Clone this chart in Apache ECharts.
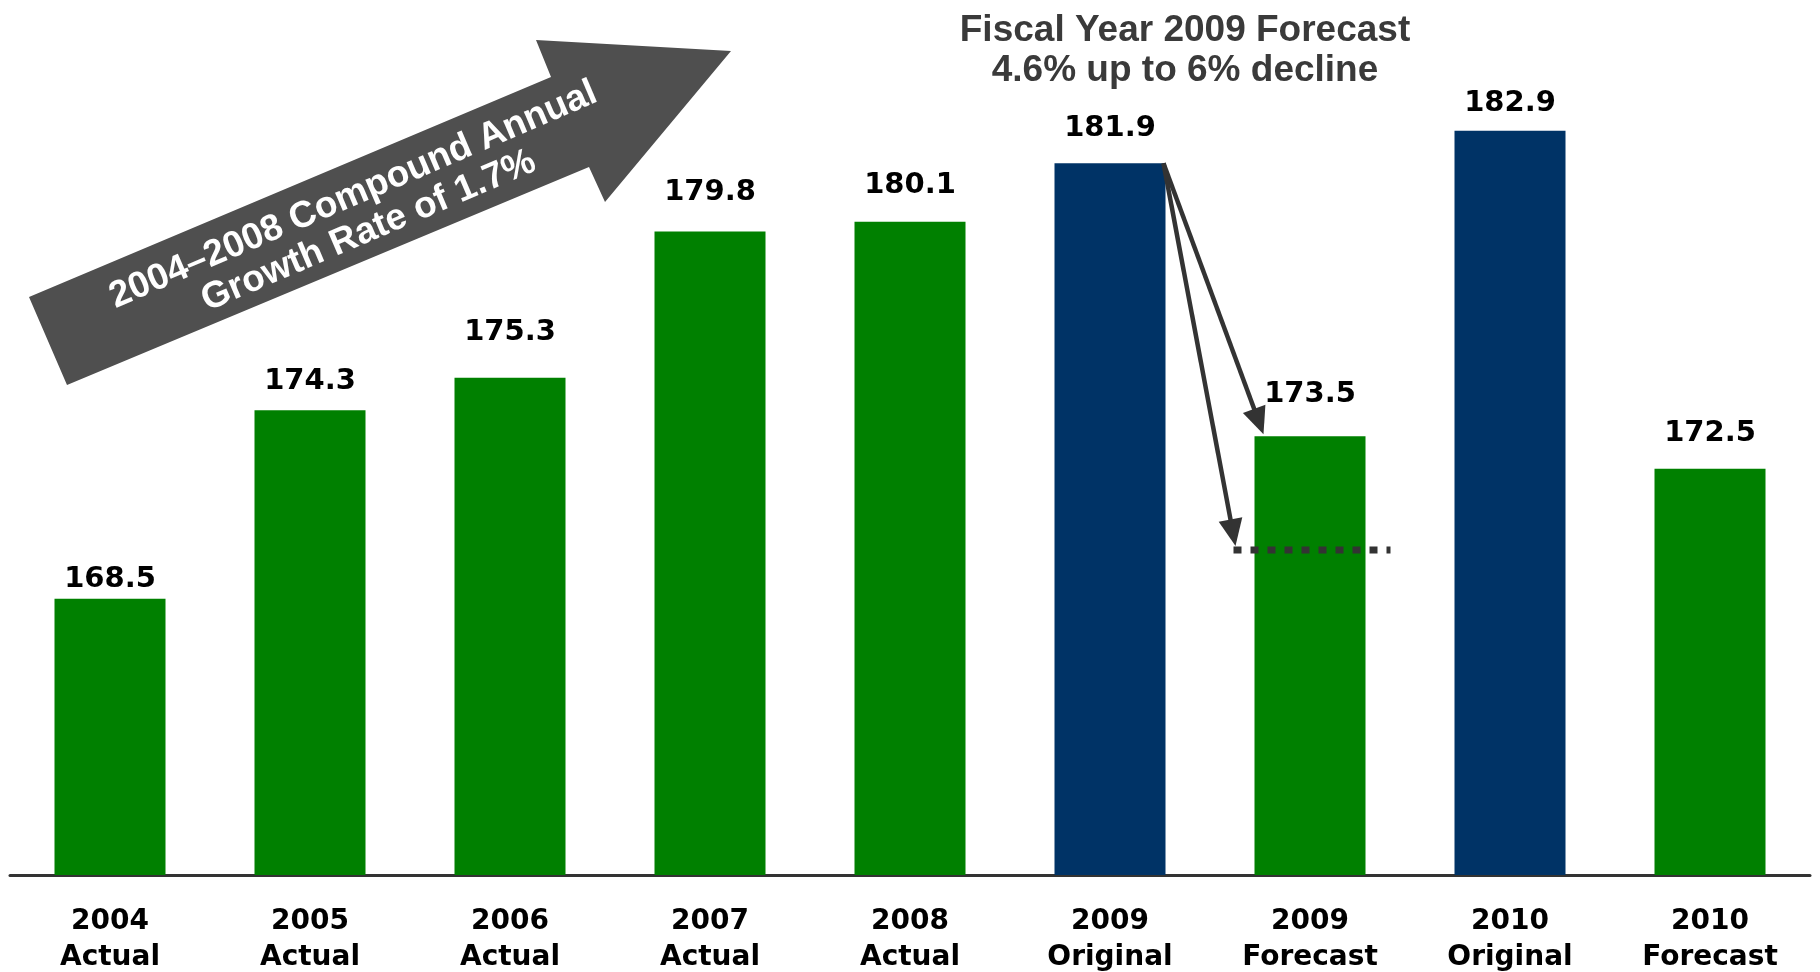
<!DOCTYPE html>
<html>
<head>
<meta charset="utf-8">
<script src="https://cdn.jsdelivr.net/npm/echarts@6/dist/echarts.min.js"></script>
<style>html,body{margin:0;padding:0;background:#fff}#c{width:1820px;height:972px}</style>
</head>
<body>
<div id="c"></div>
<script>
const categories = ['2004\nActual','2005\nActual','2006\nActual','2007\nActual','2008\nActual','2009\nOriginal','2009\nForecast','2010\nOriginal','2010\nForecast'];
const values = [168.5, 174.3, 175.3, 179.8, 180.1, 181.9, 173.5, 182.9, 172.5];
const kinds = ['actual','actual','actual','actual','actual','original','forecast','original','forecast'];
const labelGaps = [4, 14, 30, 24, 21, 20, 27, 12, 20];
const forecastLow = 170.0;
const titleLines = ['Fiscal Year 2009 Forecast', '4.6% up to 6% decline'];
const arrowLines = ['2004\u20132008 Compound Annual', 'Growth Rate of 1.7%'];

const BAR_RATIO = 0.555;
const GREEN = '#008000';
const NAVY = '#003366';
const DARK = '#333333';

const idxOrig = categories.indexOf('2009\nOriginal');
const idxFc = categories.indexOf('2009\nForecast');

function arrowShapes(start, tip, headLen, headW) {
  const dx = tip[0] - start[0], dy = tip[1] - start[1];
  const len = Math.sqrt(dx * dx + dy * dy);
  const ux = dx / len, uy = dy / len;
  const bx = tip[0] - ux * headLen, by = tip[1] - uy * headLen;
  const nx = -uy, ny = ux;
  return [
    { type: 'line', shape: { x1: start[0], y1: start[1], x2: bx + ux * 2, y2: by + uy * 2 },
      style: { stroke: DARK, lineWidth: 4.5 } },
    { type: 'polygon', shape: { points: [tip, [bx + nx * headW / 2, by + ny * headW / 2], [bx - nx * headW / 2, by - ny * headW / 2]] },
      style: { fill: DARK } }
  ];
}

const chart = echarts.init(document.getElementById('c'));
chart.setOption({
  animation: false,
  backgroundColor: '#fff',
  grid: { left: 10, right: 10, top: 62.5, bottom: 97, containLabel: false, outerBoundsMode: 'none' },
  xAxis: {
    type: 'category',
    data: categories,
    axisLine: { lineStyle: { color: DARK, width: 3 } },
    axisTick: { show: false },
    axisLabel: {
      interval: 0, margin: 28.5, color: '#000', fontFamily: 'DejaVu Sans', fontWeight: 'bold',
      fontSize: 28, lineHeight: 36
    },
    splitLine: { show: false }
  },
  yAxis: { type: 'value', min: 160, max: 185, show: false, splitLine: { show: false } },
  series: [
    {
      type: 'bar',
      barWidth: (BAR_RATIO * 100) + '%',
      data: values.map((v, i) => ({ value: v, label: { distance: labelGaps[i] } })),
      itemStyle: { color: p => kinds[p.dataIndex] === 'original' ? NAVY : GREEN },
      label: {
        show: true, position: 'top', color: '#000', fontFamily: 'DejaVu Sans', fontWeight: 'bold',
        fontSize: 29, lineHeight: 30, formatter: p => p.value.toFixed(1)
      }
    },
    {
      type: 'custom',
      z: 5,
      silent: true,
      encode: { x: [0, 2], y: [1, 3, 4] },
      data: [[idxOrig, values[idxOrig], idxFc, values[idxFc], forecastLow]],
      renderItem: function (params, api) {
        const band = api.size([1, 0])[0];
        const half = band * BAR_RATIO / 2;
        const p0 = api.coord([api.value(0), api.value(1)]);
        const p1 = api.coord([api.value(2), api.value(3)]);
        const p2 = api.coord([api.value(2), api.value(4)]);
        const start = [p0[0] + half - 2, p0[1]];
        const tip1 = [p1[0] - half + 9, p1[1] - 2];
        const tip2 = [p2[0] - half - 19, p2[1] - 4];
        const children = [
          { type: 'line', shape: { x1: p2[0] - half - 21, y1: p2[1], x2: p2[0] + half + 25, y2: p2[1] },
            style: { stroke: DARK, lineWidth: 7, lineDash: [8, 9] } }
        ].concat(arrowShapes(start, tip1, 27, 24), arrowShapes(start, tip2, 27, 24));
        return { type: 'group', children: children };
      }
    }
  ],
  graphic: [
    {
      type: 'polygon',
      shape: { points: [[67, 385], [29, 297], [551, 77], [536, 40], [731, 51], [605, 202], [589, 167]] },
      style: { fill: '#4f4f4f' },
      z: 10
    },
    {
      type: 'text',
      x: 361, y: 213,
      rotation: 0.405,
      z: 11,
      style: {
        text: arrowLines.join('\n'), fill: '#fff', font: 'bold 37px "Liberation Sans", Arial, sans-serif',
        align: 'center', verticalAlign: 'middle', lineHeight: 39
      }
    },
    {
      type: 'text',
      x: 1185, y: 10.5,
      z: 11,
      style: {
        text: titleLines.join('\n'), fill: '#3a3a3a', font: 'bold 37px "Liberation Sans", Arial, sans-serif',
        align: 'center', verticalAlign: 'top', lineHeight: 40
      }
    }
  ]
});
</script>
</body>
</html>
